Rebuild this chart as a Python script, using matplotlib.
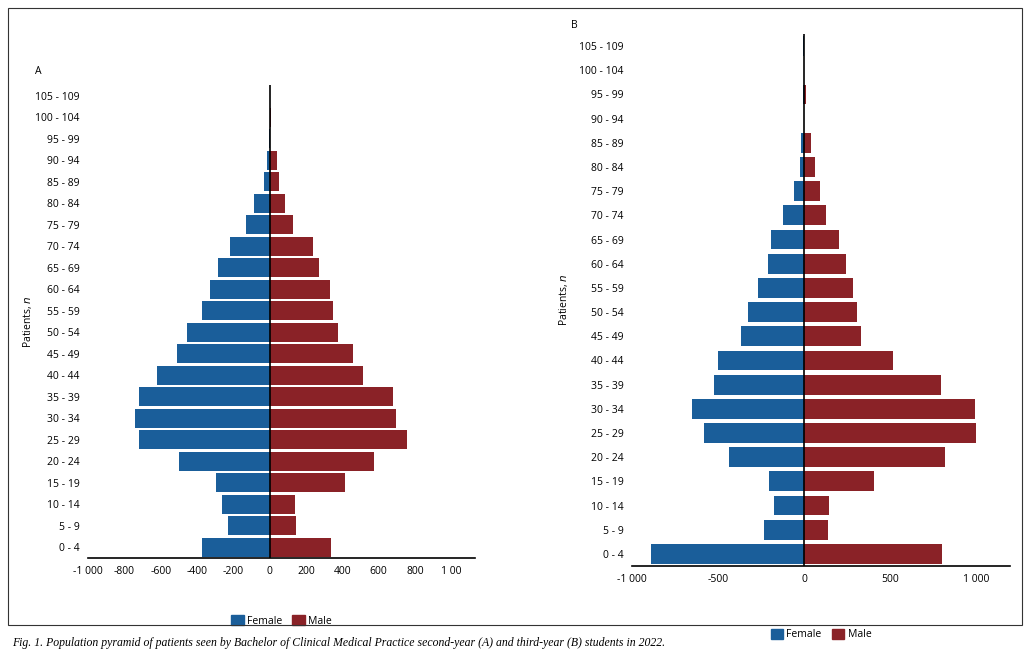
import matplotlib.pyplot as plt
from matplotlib.patches import Rectangle, Patch

plt.rcParams['font.family'] = ['Open Sans', 'DejaVu Sans']

ages = ['0 - 4', '5 - 9', '10 - 14', '15 - 19', '20 - 24', '25 - 29', '30 - 34', '35 - 39',
        '40 - 44', '45 - 49', '50 - 54', '55 - 59', '60 - 64', '65 - 69', '70 - 74', '75 - 79',
        '80 - 84', '85 - 89', '90 - 94', '95 - 99', '100 - 104', '105 - 109']

female_a = [373, 231, 264, 296, 498, 722, 744, 722, 618, 509, 455, 373, 329, 285, 220, 133,
            84, 29, 13, 3, 0, 0]
male_a = [336, 145, 140, 413, 576, 756, 696, 680, 516, 456, 375, 347, 331, 271, 238, 129,
          85, 53, 42, 0, 9, 0]
female_b = [888, 234, 176, 205, 436, 581, 651, 523, 500, 367, 326, 268, 210, 193, 124, 60,
            25, 19, 0, 8, 0, 8]
male_b = [803, 137, 143, 403, 815, 1000, 994, 792, 514, 328, 305, 282, 241, 201, 125, 91,
          62, 39, 0, 10, 0, 0]

ticks_a = [-1000, -800, -600, -400, -200, 0, 200, 400, 600, 800, 1000]
ticklabels_a = ['-1 000', '-800', '-600', '-400', '-200', '0', '200', '400', '600', '800', '1 00']
ticks_b = [-1000, -500, 0, 500, 1000]
ticklabels_b = ['-1 000', '-500', '0', '500', '1 000']

blue = '#1a5e9a'
red = '#8a2227'
W, H = 1033, 664

fig = plt.figure(figsize=(W / 100, H / 100), dpi=100)
fig.patches.append(Rectangle((8 / W, 1 - 625 / H), 1014 / W, 617 / H, transform=fig.transFigure,
                             fill=False, edgecolor='#333333', linewidth=0.8))


def pyramid(rect, female, male, xlim, ticks, ticklabels, letter, letter_xy, ylab_x, height):
    ax = fig.add_axes(rect)
    y = range(len(ages))
    ax.barh(y, [-v for v in female], height=height, color=blue, label='Female')
    ax.barh(y, male, height=height, color=red, label='Male')
    ax.axvline(0, color='black', linewidth=1.2)
    ax.set_xlim(*xlim)
    ax.set_ylim(-0.5, len(ages) - 0.5)
    ax.set_yticks(list(y))
    ax.set_yticklabels(ages, fontsize=7.5)
    ax.set_xticks(ticks)
    ax.set_xticklabels(ticklabels, fontsize=7.5)
    ax.tick_params(length=0, pad=6)
    for s in ['top', 'right', 'left']:
        ax.spines[s].set_visible(False)
    ax.spines['bottom'].set_linewidth(1.2)
    fig.text(letter_xy[0] / W, 1 - letter_xy[1] / H, letter, fontsize=7.5)
    fig.text(ylab_x / W, rect[1] + rect[3] / 2, 'Patients, $\\it{n}$', rotation=90,
             fontsize=7.5, ha='center', va='center')
    handles = [Patch(color=blue, label='Female'), Patch(color=red, label='Male')]
    ax.legend(handles=handles, loc='upper center', bbox_to_anchor=(0.5, -0.1), ncol=2,
              frameon=False, fontsize=7.5, handlelength=1.2, handleheight=1.2,
              handletextpad=0.3, columnspacing=1.0)
    return ax


pyramid([88 / W, 1 - 558 / H, 387 / W, 473 / H], female_a, male_a, (-1000, 1130),
        ticks_a, ticklabels_a, 'A', (35, 74), 28, 0.88)
pyramid([632 / W, 1 - 566 / H, 378 / W, 532 / H], female_b, male_b, (-977, 1195),
        ticks_b, ticklabels_b, 'B', (571, 28), 563, 0.82)

fig.text(12 / W, 1 - 643 / H,
         'Fig. 1. Population pyramid of patients seen by Bachelor of Clinical Medical Practice '
         'second-year (A) and third-year (B) students in 2022.',
         fontsize=8.5, style='italic', va='center', family=['Liberation Serif'])

fig.savefig('out.png', dpi=100)
